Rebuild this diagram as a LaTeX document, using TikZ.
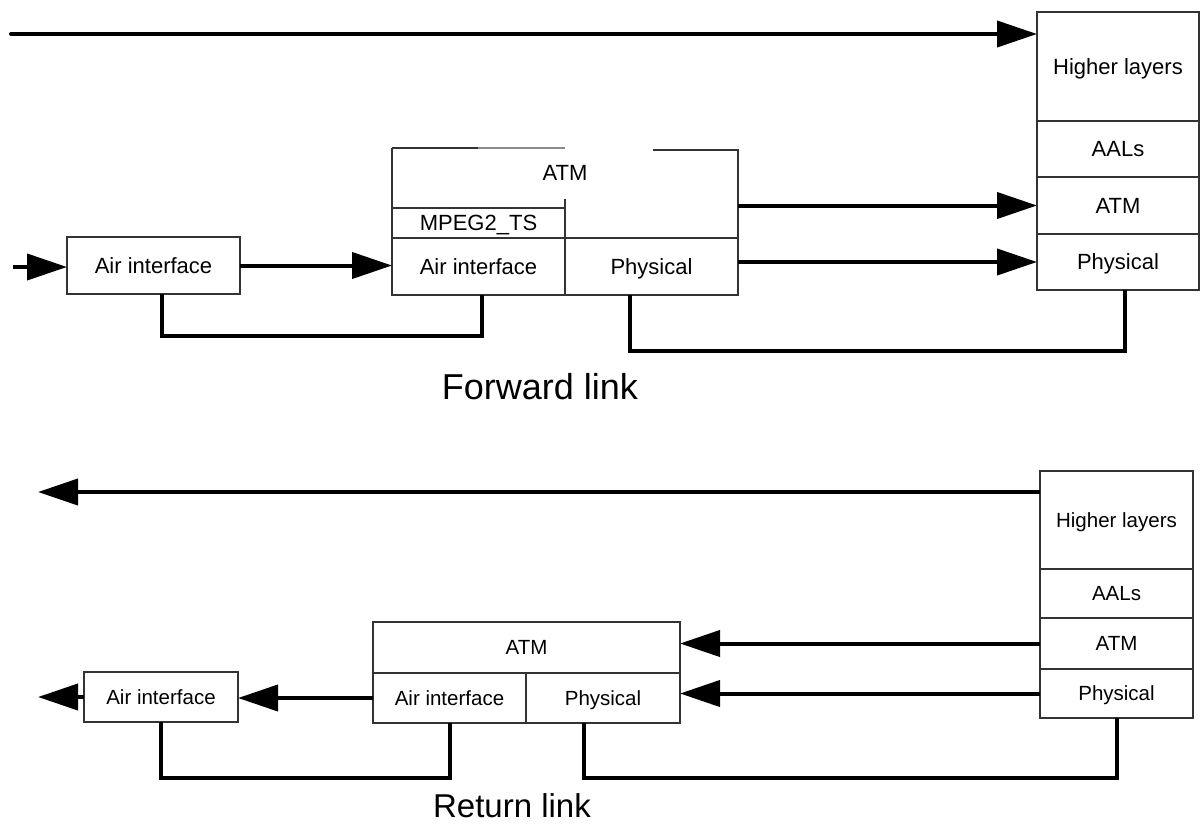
\documentclass[tikz,border=0pt]{standalone}
\usepackage{fontspec}
\setmainfont{Liberation Sans}
\usetikzlibrary{arrows.meta}
\begin{document}
\begin{tikzpicture}[x=1pt,y=-1pt,
  cell/.style={draw=black!80, line width=1.2pt, inner sep=0pt, outer sep=0pt, font=\fontsize{22}{26}\selectfont, text height=15.7pt, text depth=0pt},
  rcell/.style={cell, font=\fontsize{20.5}{24}\selectfont, text height=14.7pt},
  lbl/.style={inner sep=0pt, outer sep=0pt, font=\fontsize{22}{26}\selectfont, text height=15.7pt, text depth=0pt},
  link/.style={line width=4pt},
  flow/.style={link, -{Triangle[length=40pt,width=26pt]}},
  boxline/.style={draw=black!80, line width=1.2pt}]
\fill[white] (0,0) rectangle (1200,823);
\useasboundingbox (0,0) rectangle (1200,823);

% ---------- Forward link ----------
\node[cell, minimum width=173pt, minimum height=57pt] (fl) at (153.5,265.5) {Air interface};
\coordinate (fin) at (13,267);
\draw[flow] (fin) -- (fin -| fl.west);

\node[lbl, minimum width=346pt, minimum height=145pt] (fm) at (565,222.5) {};
\node[lbl] (fmatm) at (565,173) {ATM};
\node[lbl, minimum width=173pt, minimum height=30pt] (fmmpeg) at (478.5,223) {MPEG2\_TS};
\node[lbl, minimum width=173pt, minimum height=57pt] (fmair) at (478.5,266.5) {Air interface};
\node[lbl, minimum width=173pt, minimum height=57pt] (fmphy) at (651.5,266.5) {Physical};
\draw[boxline] (392,148) -- (392,295) -- (738,295) -- (738,150) -- (653,150);
\draw[boxline] (392,148) -- (478,148);
\draw[draw=black!45, line width=1.2pt] (478,148) -- (565,148);
\draw[boxline] (392,208) -- (565,208);
\draw[boxline] (565,199) -- (565,295);
\draw[boxline] (392,238) -- (738,238);

\node[cell, minimum width=162pt, minimum height=109pt] (frh) at (1118,66.5) {Higher layers};
\node[cell, minimum width=162pt, minimum height=56pt] (fra) at (1118,149) {AALs};
\node[cell, minimum width=162pt, minimum height=57pt] (frt) at (1118,205.5) {ATM};
\node[cell, minimum width=162pt, minimum height=56pt] (frp) at (1118,262) {Physical};

\coordinate (ftop) at (11,34);
\draw[flow, line cap=round] (ftop) -- (ftop -| frh.west);
\draw[flow] (fl.east) -- (fl.east -| fmair.west);
\draw[flow] (fm.east |- frt.west) -- (frt.west);
\draw[flow] (fm.east |- frp.west) -- (frp.west);

\draw[link] ([xshift=8.5pt]fl.south) -- ++(0,42) -| ([xshift=3.5pt]fmair.south);
\draw[link] ([xshift=-21.5pt]fmphy.south) -- ++(0,56) -| ([xshift=7pt]frp.south);

\node[font=\fontsize{36}{40}\selectfont, anchor=base, inner sep=0pt] (flabel) at (540,399) {Forward link};

% ---------- Return link ----------
\node[rcell, minimum width=153pt, minimum height=98pt] (rrh) at (1116.5,520) {Higher layers};
\node[rcell, minimum width=153pt, minimum height=49pt] (rra) at (1116.5,593.5) {AALs};
\node[rcell, minimum width=153pt, minimum height=51pt] (rrt) at (1116.5,643.5) {ATM};
\node[rcell, minimum width=153pt, minimum height=49pt] (rrp) at (1116.5,693.5) {Physical};

\node[rcell, minimum width=307pt, minimum height=51pt] (rmt) at (526.5,647.5) {ATM};
\node[rcell, minimum width=153pt, minimum height=50pt] (rmair) at (449.5,698) {Air interface};
\node[rcell, minimum width=154pt, minimum height=50pt] (rmphy) at (603,698) {Physical};

\node[rcell, minimum width=154pt, minimum height=50pt] (rl) at (161,697) {Air interface};

\coordinate (rtop) at (38,492);
\draw[flow] (rrh.west |- rtop) -- (rtop);
\draw[flow] (rrt.west) -- (rrt.west -| rmt.east);
\draw[flow] (rrp.west) -- (rrp.west -| rmphy.east);
\draw[flow] (rmair.west) -- (rmair.west -| rl.east);
\coordinate (rout) at (38,697);
\draw[flow] (rl.west) -- (rout);

\draw[link] (rl.south) -- ++(0,56) -| (rmair.south);
\draw[link] ([xshift=-19pt]rmphy.south) -- ++(0,55) -| ([xshift=0.5pt]rrp.south);

\node[font=\fontsize{33}{37}\selectfont, anchor=base, inner sep=0pt] (rlabel) at (512,817) {Return link};
\end{tikzpicture}
\end{document}
